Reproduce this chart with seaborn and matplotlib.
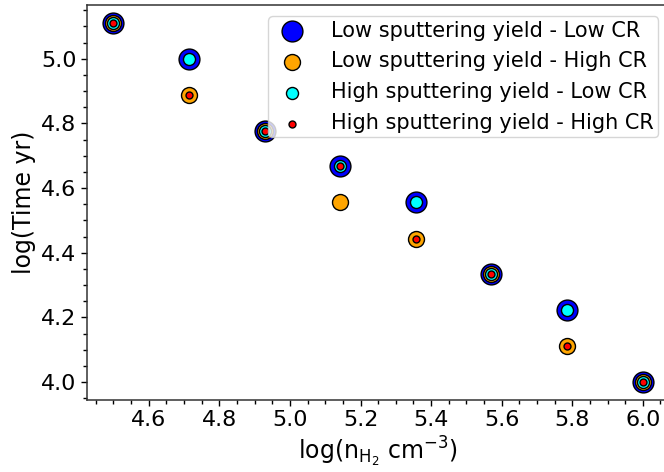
import matplotlib
matplotlib.use("Agg")
import matplotlib.pyplot as plt
import seaborn as sns
import numpy as np
from matplotlib.ticker import MultipleLocator, FormatStrFormatter

# Data
log_nH2 = [4.5, 4.714, 4.929, 5.143, 5.357, 5.571, 5.786, 6.0]
low_sy_low_cr = [5.111, 5.0, 4.778, 4.667, 4.556, 4.333, 4.222, 4.0]
low_sy_high_cr = [5.111, 4.889, 4.778, 4.556, 4.444, 4.333, 4.111, 4.0]
high_sy_low_cr = [5.111, 5.0, 4.778, 4.667, 4.556, 4.333, 4.222, 4.0]
high_sy_high_cr = [5.111, 4.889, 4.778, 4.667, 4.444, 4.333, 4.111, 4.0]

labels = ["Low sputtering yield - Low CR", "Low sputtering yield - High CR",
          "High sputtering yield - Low CR", "High sputtering yield - High CR"]

sns.set_style("white")
plt.rcParams['font.family'] = ['DejaVu Sans']
plt.rcParams['text.color'] = 'black'
plt.rcParams['axes.labelcolor'] = 'black'
plt.rcParams['xtick.color'] = 'black'
plt.rcParams['ytick.color'] = 'black'

fig = plt.figure(figsize=(6.64, 4.72), dpi=100)
ax = fig.add_axes([0.131, 0.1525, 0.877, 0.837])

series = [
    (low_sy_low_cr, "blue", 225),
    (low_sy_high_cr, "orange", 132),
    (high_sy_low_cr, "cyan", 75),
    (high_sy_high_cr, "red", 25),
]
for (vals, col, s), lab in zip(series, labels):
    sns.scatterplot(x=log_nH2, y=vals, color=col, s=s, edgecolor="black",
                    linewidth=1.0, label=lab, ax=ax, zorder=3)

ax.xaxis.set_major_locator(MultipleLocator(0.2))
ax.xaxis.set_minor_locator(MultipleLocator(0.05))
ax.yaxis.set_major_locator(MultipleLocator(0.2))
ax.yaxis.set_minor_locator(MultipleLocator(0.05))
ax.tick_params(which="major", direction="out", length=4.5, width=1.0, labelsize=16,
               left=True, bottom=True, color="black", pad=3)
ax.tick_params(which="minor", direction="out", length=3, width=1.0,
               left=True, bottom=True, color="black")
ax.xaxis.set_major_formatter(FormatStrFormatter('%.1f'))
ax.yaxis.set_major_formatter(FormatStrFormatter('%.1f'))

for sp in ax.spines.values():
    sp.set_color("#333333")
    sp.set_linewidth(1.1)

ax.set_xlabel(r"log(n$_{\mathrm{H_2}}$ cm$^{-3}$)", fontsize=17, labelpad=3)
ax.set_ylabel("log(Time yr)", fontsize=17, labelpad=4)

ax.legend(loc="upper right", fontsize=15, markerscale=1.0, frameon=True,
          borderpad=0.2, handlelength=1.9, handletextpad=0.9,
          labelspacing=0.52, borderaxespad=0.55)

fig.savefig("out.png", dpi=100)
